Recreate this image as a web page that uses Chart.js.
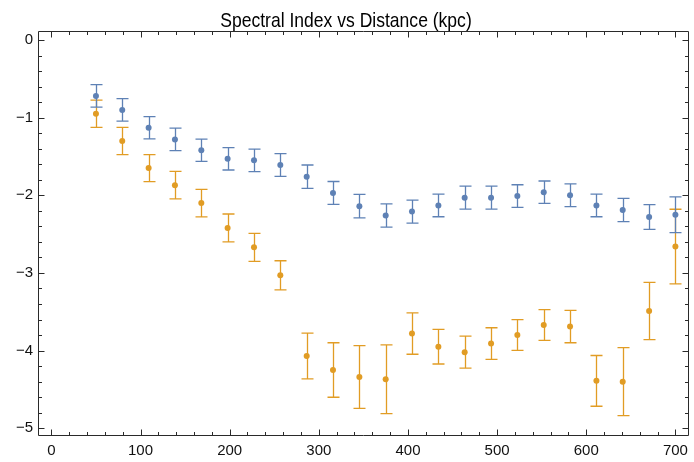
<!DOCTYPE html>
<html>
<head>
<meta charset="utf-8">
<script src="https://cdn.jsdelivr.net/npm/chart.js@4/dist/chart.umd.min.js"></script>
<style>html,body{margin:0;padding:0;background:#fff;}canvas{display:block;}</style>
</head>
<body>
<canvas id="c" width="694" height="462"></canvas>
<script>
const chartTitle = "Spectral Index vs Distance (kpc)";
const distances = [50, 79.5, 109.1, 138.6, 168.2, 197.7, 227.3, 256.8, 286.4, 315.9, 345.5, 375, 404.5, 434.1, 463.6, 493.2, 522.7, 552.3, 581.8, 611.4, 640.9, 670.5, 700];
const blueIndex = [-0.72, -0.90, -1.13, -1.28, -1.42, -1.53, -1.55, -1.61, -1.76, -1.97, -2.14, -2.26, -2.21, -2.13, -2.03, -2.03, -2.01, -1.96, -2.00, -2.13, -2.19, -2.28, -2.25];
const blueError = [0.145, 0.145, 0.144, 0.145, 0.143, 0.144, 0.144, 0.146, 0.15, 0.148, 0.151, 0.15, 0.149, 0.146, 0.147, 0.147, 0.146, 0.144, 0.146, 0.146, 0.15, 0.16, 0.23];
const orangeIndex = [-0.95, -1.30, -1.65, -1.87, -2.10, -2.42, -2.67, -3.03, -4.07, -4.25, -4.34, -4.37, -3.78, -3.95, -4.02, -3.91, -3.80, -3.67, -3.69, -4.39, -4.40, -3.49, -2.66];
const orangeError = [0.175, 0.176, 0.174, 0.177, 0.177, 0.179, 0.18, 0.187, 0.295, 0.351, 0.405, 0.443, 0.267, 0.223, 0.207, 0.204, 0.198, 0.198, 0.209, 0.327, 0.437, 0.368, 0.48];
const xTickLabels = [0, 100, 200, 300, 400, 500, 600, 700];
const yTickLabels = [-5, -4, -3, -2, -1, 0];

const BLUE = "#5E81B5", ORANGE = "#E19C24";

function pts(vals, errs) {
  return distances.map((x, i) => ({x: x, y: vals[i], err: errs[i]}));
}

const errorBars = {
  id: "errorBars",
  beforeDatasetDraw(chart, args) {
    const ds = chart.data.datasets[args.index];
    const xs = chart.scales.x, ys = chart.scales.y;
    const ctx = chart.ctx;
    ctx.save();
    ctx.strokeStyle = ds.borderColor;
    ctx.lineWidth = 1.3;
    ds.data.forEach(p => {
      const px = Math.round(xs.getPixelForValue(p.x)) + 0.5;
      const t = ys.getPixelForValue(p.y + p.err);
      const b = ys.getPixelForValue(p.y - p.err);
      ctx.beginPath();
      ctx.moveTo(px, t); ctx.lineTo(px, b);
      ctx.moveTo(px - 6, t); ctx.lineTo(px + 6, t);
      ctx.moveTo(px - 6, b); ctx.lineTo(px + 6, b);
      ctx.stroke();
    });
    ctx.restore();
  }
};

const frame = {
  id: "frame",
  afterDraw(chart) {
    const ctx = chart.ctx, a = chart.chartArea;
    const xs = chart.scales.x, ys = chart.scales.y;
    ctx.save();
    ctx.strokeStyle = "#2a2a2a";
    ctx.lineWidth = 1;
    const L = Math.round(a.left) + 0.5, R = Math.round(a.right) - 0.5;
    const T = Math.round(a.top) + 0.5, B = Math.round(a.bottom) - 0.5;
    ctx.beginPath();
    ctx.rect(L, T, R - L, B - T);
    for (let v = 0; v <= 700; v += 20) {
      const px = Math.round(xs.getPixelForValue(v)) + 0.5;
      const len = (v % 100 === 0) ? 6 : 3.5;
      ctx.moveTo(px, B); ctx.lineTo(px, B - len);
      ctx.moveTo(px, T); ctx.lineTo(px, T + len);
    }
    for (let k = -25; k <= 0; k++) {
      const v = k / 5;
      const py = Math.round(ys.getPixelForValue(v)) + 0.5;
      const len = (k % 5 === 0) ? 6 : 3.5;
      ctx.moveTo(L, py); ctx.lineTo(L + len, py);
      ctx.moveTo(R, py); ctx.lineTo(R - len, py);
    }
    ctx.stroke();
    ctx.fillStyle = "#000";
    ctx.font = "21px 'Liberation Sans', Arial, sans-serif";
    ctx.textAlign = "center";
    ctx.textBaseline = "alphabetic";
    ctx.translate(346, 27);
    ctx.scale(0.835, 1);
    ctx.fillText(chartTitle, 0, 0);
    ctx.restore();
  }
};

new Chart(document.getElementById("c"), {
  type: "scatter",
  data: {
    datasets: [
      {label: "A", data: pts(blueIndex, blueError), borderColor: BLUE, backgroundColor: BLUE, pointRadius: 3, pointBorderWidth: 0},
      {label: "B", data: pts(orangeIndex, orangeError), borderColor: ORANGE, backgroundColor: ORANGE, pointRadius: 3, pointBorderWidth: 0}
    ]
  },
  options: {
    responsive: false,
    animation: false,
    layout: {padding: {top: 31, right: 1, left: 0, bottom: 0}},
    plugins: {legend: {display: false}, title: {display: false}, tooltip: {enabled: false}},
    scales: {
      x: {
        type: "linear", min: -15, max: 715,
        border: {display: false},
        grid: {display: false, drawTicks: false, tickLength: 0},
        afterBuildTicks: s => { s.ticks = xTickLabels.map(v => ({value: v})); },
        afterFit: s => { s.height = 26; },
        ticks: {color: "#111", padding: 6, font: {family: "'Liberation Sans', Arial, sans-serif", size: 15}, maxRotation: 0, autoSkip: false, callback: v => String(v)}
      },
      y: {
        type: "linear", min: -5.1, max: 0.116,
        border: {display: false},
        grid: {display: false, drawTicks: false, tickLength: 0},
        afterBuildTicks: s => { s.ticks = yTickLabels.map(v => ({value: v})); },
        afterFit: s => { s.width = 38; },
        ticks: {color: "#111", padding: 5, font: {family: "'Liberation Sans', Arial, sans-serif", size: 15}, autoSkip: false, callback: v => String(v).replace("-", "\u2212")}
      }
    }
  },
  plugins: [errorBars, frame]
});
</script>
</body>
</html>
